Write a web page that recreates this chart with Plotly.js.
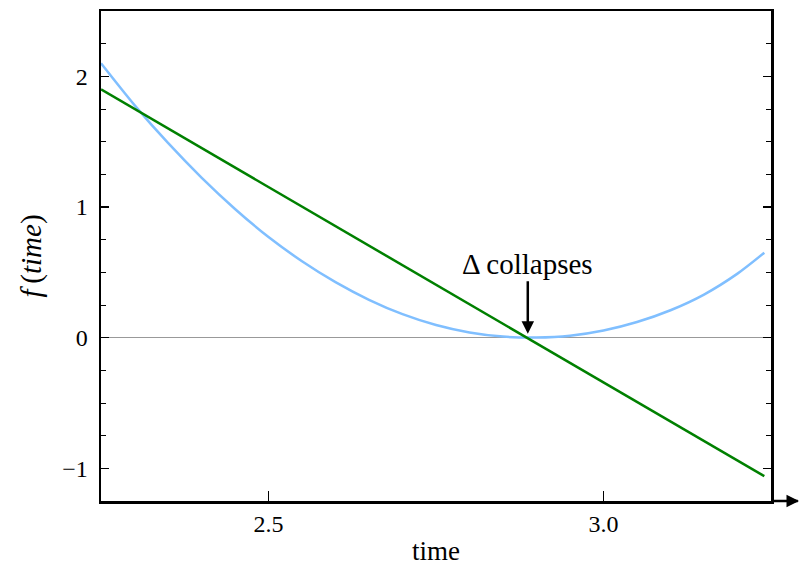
<!DOCTYPE html>
<html>
<head>
<meta charset="utf-8">
<script src="https://cdn.plot.ly/plotly-3.0.1.min.js"></script>
<style>html,body{margin:0;padding:0;background:#fff;}#chart{width:800px;height:566px;}</style>
</head>
<body>
<div id="chart"></div>
<script>
// Curve f(time)
const curveTime = [2.25, 2.30, 2.35, 2.40, 2.45, 2.50, 2.55, 2.60, 2.65, 2.70, 2.75, 2.80, 2.85, 2.90, 2.95, 3.00, 3.05, 3.10, 3.15, 3.20, 3.24];
const curveF    = [2.10, 1.78, 1.49, 1.225, 0.985, 0.77, 0.585, 0.425, 0.29, 0.18, 0.097, 0.04, 0.008, 0.001, 0.015, 0.055, 0.12, 0.21, 0.33, 0.49, 0.65];
// Tangent line
const lineTime = [2.25, 3.24];
const lineF    = [1.90, -1.06];
// Annotation
const annText = "Δ collapses";
const annTime = 2.887;
const annF = 0.03;
const xTickVals = [2.5, 3.0];
const xTickText = ["2.5", "3.0"];
const yTickVals = [-1, 0, 1, 2];

const FONT = "'Liberation Serif', 'DejaVu Serif', serif";

const traces = [
  {x: curveTime, y: curveF, type: 'scatter', mode: 'lines',
   line: {color: '#80bfff', width: 2.5, shape: 'spline', smoothing: 0.8}, hoverinfo: 'skip'},
  {x: lineTime, y: lineF, type: 'scatter', mode: 'lines',
   line: {color: '#008000', width: 2.5}, hoverinfo: 'skip'}
];

const layout = {
  width: 800, height: 566,
  margin: {l: 101, r: 29, t: 11, b: 65, pad: 0},
  paper_bgcolor: '#fff', plot_bgcolor: '#fff',
  showlegend: false,
  font: {family: FONT, size: 24, color: '#000'},
  xaxis: {
    range: [2.25, 3.25], showgrid: false, zeroline: false,
    showline: true, linecolor: '#000', linewidth: 2.5, mirror: true,
    ticks: 'inside', ticklen: 10, tickwidth: 1, tickcolor: '#000',
    tickvals: xTickVals, ticktext: xTickText,
    tickfont: {family: FONT, size: 24},
    title: {text: 'time', font: {family: FONT, size: 27}, standoff: 6}
  },
  yaxis: {
    range: [-1.25, 2.5], showgrid: false,
    zeroline: true, zerolinecolor: '#999', zerolinewidth: 1,
    showline: true, linecolor: '#000', linewidth: 2.5, mirror: 'ticks',
    ticks: 'inside', ticklen: 8, tickwidth: 1.5, tickcolor: '#000',
    tickvals: yTickVals,
    minor: {dtick: 0.25, ticks: 'inside', ticklen: 5, tickwidth: 1, tickcolor: '#000', showgrid: false},
    tickfont: {family: FONT, size: 24},
    ticklabelstandoff: 6,
    title: {text: '<i>f</i>\u2009(<i>time</i>)', font: {family: FONT, size: 29}, standoff: 12}
  },
  shapes: [
    {type: 'line', xref: 'paper', yref: 'paper', x0: 1, x1: 1.04, y0: 0, y1: 0,
     line: {color: '#000', width: 2.5}}
  ],
  annotations: [
    {x: annTime, y: annF, xref: 'x', yref: 'y', text: annText, showarrow: true,
     ax: 0, ay: -70, arrowhead: 2, arrowsize: 1, arrowwidth: 2.5, arrowcolor: '#000',
     standoff: 0, font: {family: FONT, size: 29, color: '#000'}},
    {x: 1.045, y: 0, xref: 'paper', yref: 'paper', text: '', showarrow: true,
     ax: -14, ay: 0, arrowhead: 2, arrowsize: 1, arrowwidth: 2.5, arrowcolor: '#000', standoff: 0}
  ]
};

Plotly.newPlot('chart', traces, layout, {displayModeBar: false, staticPlot: true});
</script>
</body>
</html>
